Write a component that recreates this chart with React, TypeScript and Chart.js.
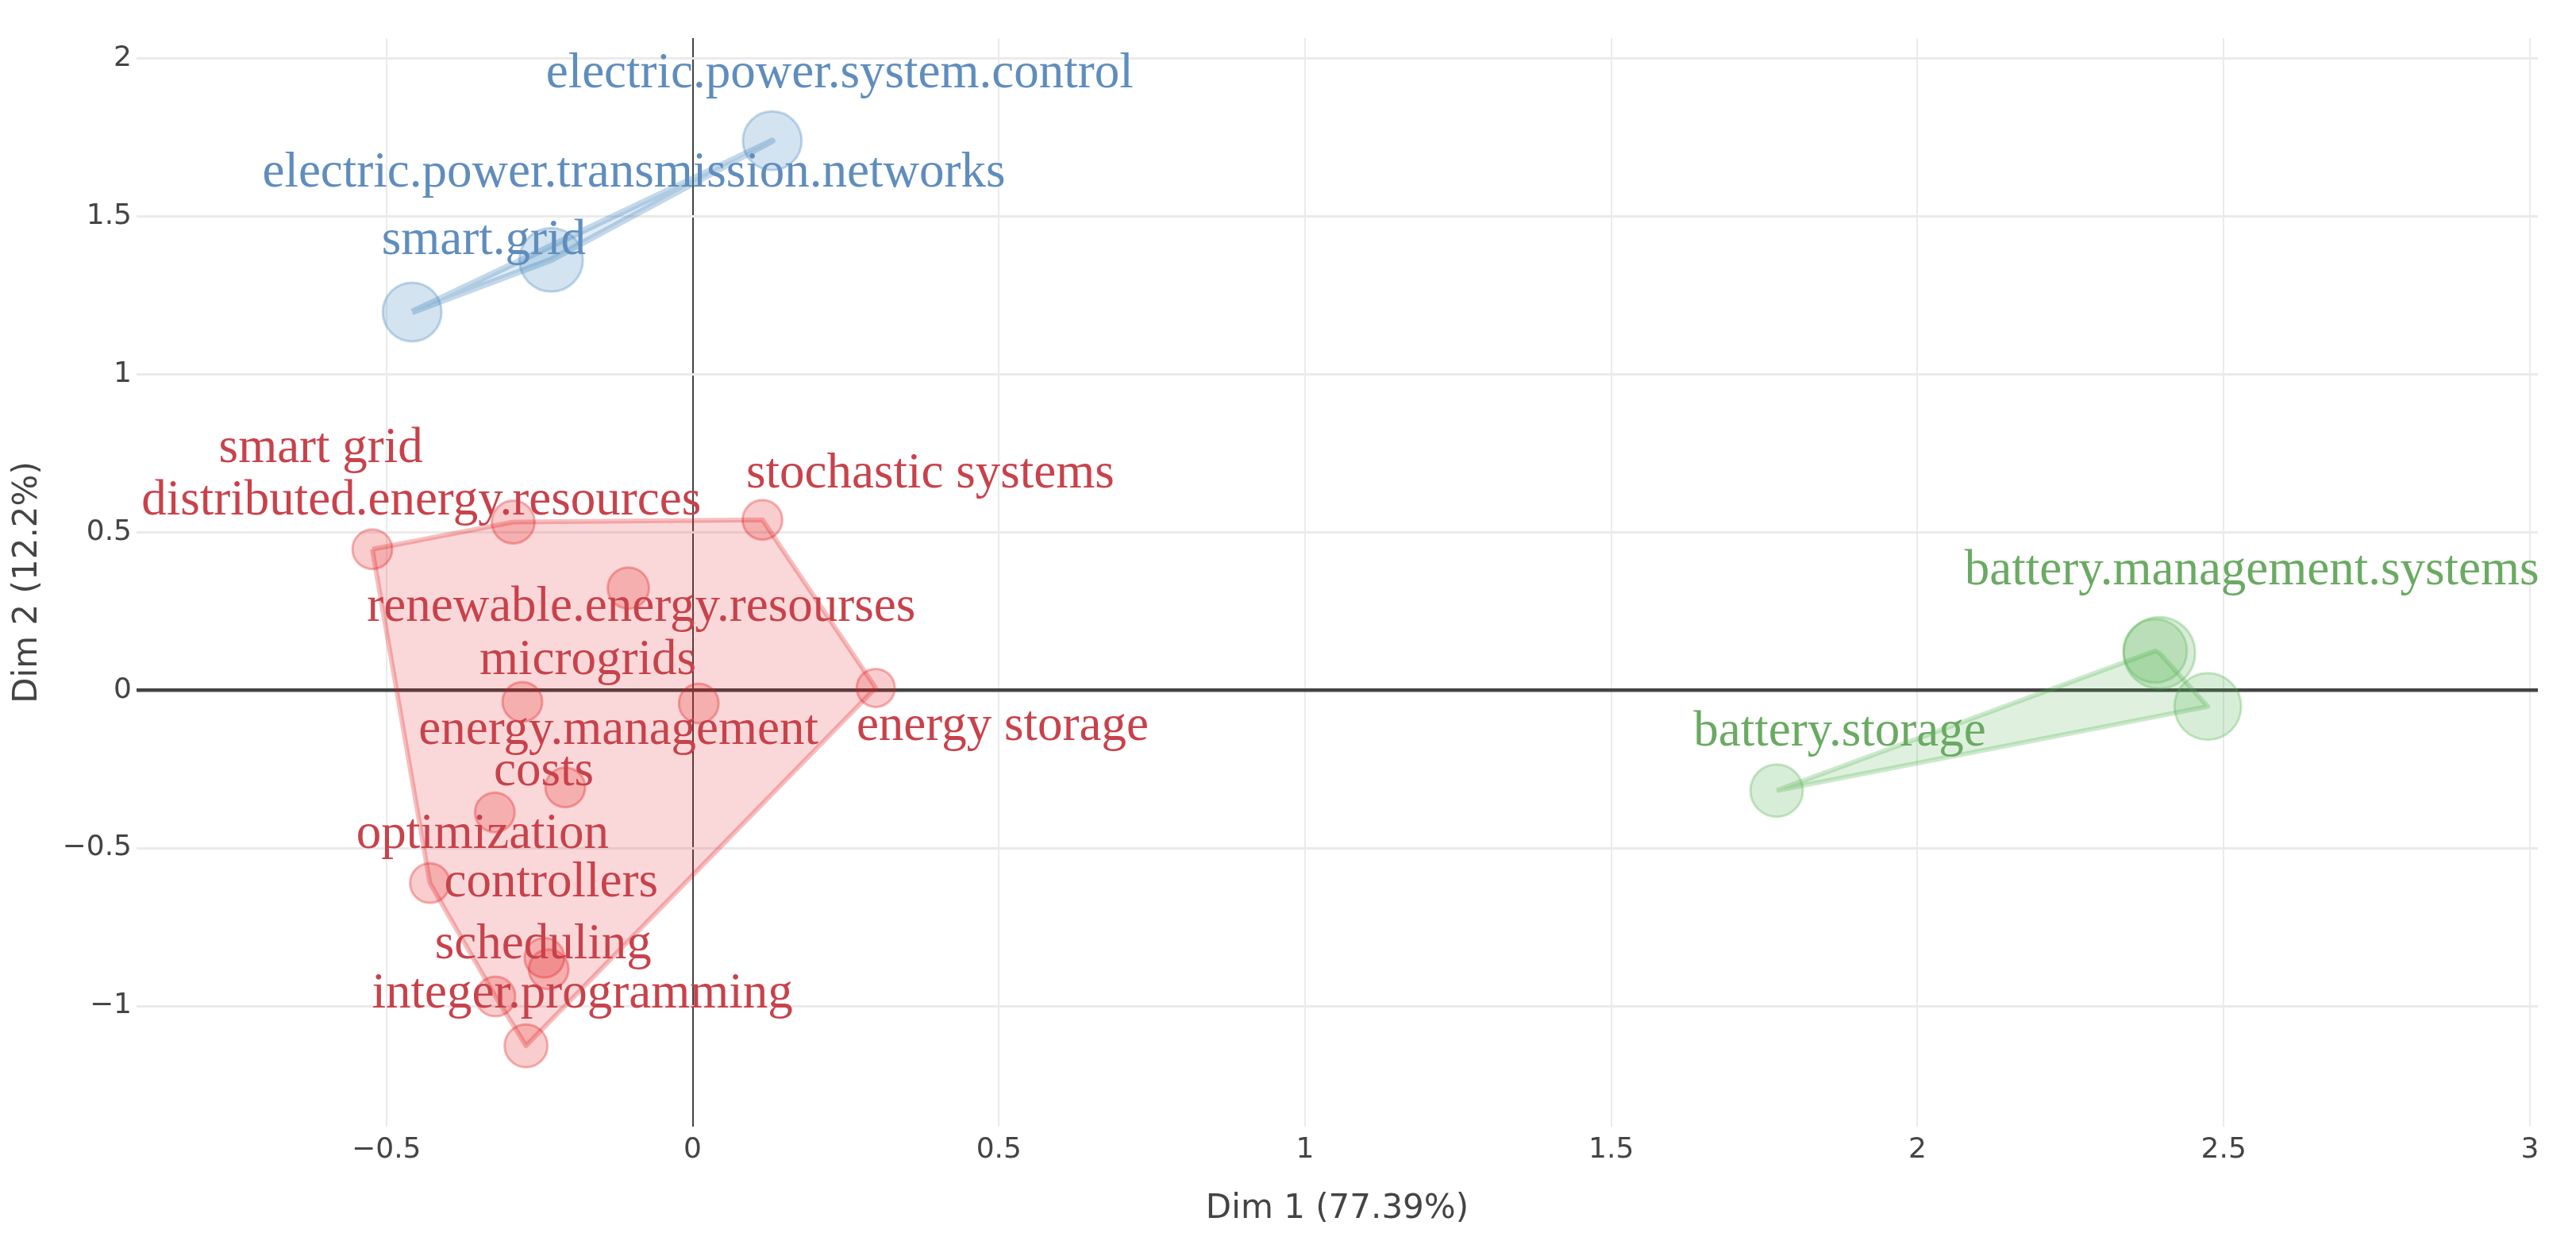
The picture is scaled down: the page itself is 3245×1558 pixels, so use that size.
import React, { useEffect, useRef } from 'react';
import { Chart, registerables } from 'chart.js';

Chart.register(...registerables);

const W = 3245;
const H = 1558;

// ---- data (Dim 1, Dim 2 coordinates) ----
const BLUE_X = [-0.458, -0.231, 0.13];
const BLUE_Y = [1.197, 1.362, 1.739];
const BLUE_SIZE = [37, 40, 37];
const BLUE_LABELS = ['electric.power.system.control', 'electric.power.transmission.networks', 'smart.grid'];
const BLUE_LABEL_X = [0.24, -0.096, -0.341];
const BLUE_LABEL_Y = [1.946, 1.633, 1.419];

const RED_X = [-0.523, -0.293, 0.114, -0.105, -0.278, 0.01, 0.299, -0.208, -0.323, -0.429, -0.242, -0.235, -0.322, -0.272];
const RED_Y = [0.446, 0.532, 0.539, 0.323, -0.037, -0.042, 0.007, -0.308, -0.387, -0.611, -0.847, -0.884, -0.97, -1.126];
const RED_SIZE = [25, 27, 25, 26, 25, 25, 24, 25, 25, 25, 25, 25, 25, 27];
const RED_LABELS = [
  'smart grid',
  'distributed.energy.resources',
  'stochastic systems',
  'renewable.energy.resourses',
  'microgrids',
  'energy.management',
  'energy storage',
  'costs',
  'optimization',
  'controllers',
  'scheduling',
  'integer.programming',
];
const RED_LABEL_X = [-0.607, -0.443, 0.388, -0.084, -0.171, -0.121, 0.506, -0.243, -0.343, -0.231, -0.244, -0.18];
const RED_LABEL_Y = [0.759, 0.594, 0.68, 0.256, 0.089, -0.133, -0.121, -0.264, -0.463, -0.616, -0.81, -0.966];

const GREEN_X = [2.395, 2.388, 2.474, 1.77];
const GREEN_Y = [0.118, 0.124, -0.052, -0.318];
const GREEN_SIZE = [45, 40, 42, 33];
const GREEN_LABELS = ['battery.management.systems', 'battery.storage'];
const GREEN_LABEL_X = [2.546, 1.873];
const GREEN_LABEL_Y = [0.372, -0.138];

const X_TICKS = [-0.5, 0, 0.5, 1, 1.5, 2, 2.5, 3];
const Y_TICKS = [-1, -0.5, 0, 0.5, 1, 1.5, 2];
const X_MIN = -0.908;
const X_MAX = 3.013;
const Y_MIN = -1.382;
const Y_MAX = 2.064;

const X_TITLE = 'Dim 1 (77.39%)';
const Y_TITLE = 'Dim 2 (12.2%)';

type P = { x: number; y: number };

function toPoints(xs: number[], ys: number[]): P[] {
  return xs.map((x, i) => ({ x, y: ys[i] }));
}

function hull(pts: P[]): P[] {
  const s = [...pts].sort((a, b) => (a.x === b.x ? a.y - b.y : a.x - b.x));
  const cross = (o: P, a: P, b: P) => (a.x - o.x) * (b.y - o.y) - (a.y - o.y) * (b.x - o.x);
  const lower: P[] = [];
  for (const p of s) {
    while (lower.length >= 2 && cross(lower[lower.length - 2], lower[lower.length - 1], p) <= 0) lower.pop();
    lower.push(p);
  }
  const upper: P[] = [];
  for (let i = s.length - 1; i >= 0; i--) {
    const p = s[i];
    while (upper.length >= 2 && cross(upper[upper.length - 2], upper[upper.length - 1], p) <= 0) upper.pop();
    upper.push(p);
  }
  upper.pop();
  lower.pop();
  const h = lower.concat(upper);
  return h.concat([h[0]]);
}

const fmt = (v: number) => (v < 0 ? '\u2212' + String(Math.abs(v)) : String(v));

const RED = '228,26,28';
const BLUE = '55,126,184';
const GREEN = '77,175,74';

const GROUPS = [
  { rgb: BLUE, text: '#5f8dbd', xs: BLUE_X, ys: BLUE_Y, size: BLUE_SIZE, labels: BLUE_LABELS, lx: BLUE_LABEL_X, ly: BLUE_LABEL_Y, hullFill: 0.15, hullLine: 0.3, hullW: 8, ptFill: 0.22, ptLine: 0.3 },
  { rgb: RED, text: '#c8424b', xs: RED_X, ys: RED_Y, size: RED_SIZE, labels: RED_LABELS, lx: RED_LABEL_X, ly: RED_LABEL_Y, hullFill: 0.17, hullLine: 0.28, hullW: 6, ptFill: 0.22, ptLine: 0.32 },
  { rgb: GREEN, text: '#6aaa62', xs: GREEN_X, ys: GREEN_Y, size: GREEN_SIZE, labels: GREEN_LABELS, lx: GREEN_LABEL_X, ly: GREEN_LABEL_Y, hullFill: 0.18, hullLine: 0.28, hullW: 6, ptFill: 0.22, ptLine: 0.3 },
];

const labelPlugin = {
  id: 'pointLabels',
  afterDatasetsDraw(chart: any) {
    const { ctx, scales } = chart;
    const size = 63;
    ctx.save();
    ctx.font = `${size}px "Liberation Serif", "Times New Roman", serif`;
    ctx.textAlign = 'center';
    ctx.textBaseline = 'alphabetic';
    for (const g of GROUPS) {
      ctx.fillStyle = g.text;
      g.labels.forEach((t, i) => {
        const px = scales.x.getPixelForValue(g.lx[i]);
        const py = scales.y.getPixelForValue(g.ly[i]);
        ctx.fillText(t, px, py + size * 0.24);
      });
    }
    ctx.restore();
  },
};

export default function App() {
  const ref = useRef<HTMLCanvasElement | null>(null);

  useEffect(() => {
    document.body.style.margin = '0';
    const canvas = ref.current;
    if (!canvas) return;

    const datasets: any[] = [];
    GROUPS.forEach((g) => {
      datasets.push({
        label: 'hull',
        data: hull(toPoints(g.xs, g.ys)),
        showLine: true,
        fill: 'shape',
        backgroundColor: `rgba(${g.rgb},${g.hullFill})`,
        borderColor: `rgba(${g.rgb},${g.hullLine})`,
        borderWidth: g.hullW,
        borderJoinStyle: 'round',
        pointRadius: 0,
        tension: 0,
        order: 2,
      });
    });
    GROUPS.forEach((g) => {
      datasets.push({
        label: 'points',
        data: toPoints(g.xs, g.ys),
        showLine: false,
        pointRadius: g.size,
        pointHoverRadius: g.size,
        backgroundColor: `rgba(${g.rgb},${g.ptFill})`,
        borderColor: `rgba(${g.rgb},${g.ptLine})`,
        pointBorderWidth: 3,
        order: 1,
      });
    });

    const tickFont = { family: '"DejaVu Sans", Verdana, sans-serif', size: 36 };
    const titleFont = { family: '"DejaVu Sans", Verdana, sans-serif', size: 42 };

    const chart = new Chart(canvas, {
      type: 'scatter',
      data: { datasets },
      plugins: [labelPlugin],
      options: {
        animation: false,
        responsive: false,
        maintainAspectRatio: false,
        devicePixelRatio: 1,
        layout: { padding: { top: 20, right: 15, left: 0, bottom: 0 } },
        plugins: { legend: { display: false }, tooltip: { enabled: false } },
        scales: {
          x: {
            type: 'linear',
            min: X_MIN,
            max: X_MAX,
            afterBuildTicks: (s: any) => {
              s.ticks = X_TICKS.map((v) => ({ value: v }));
            },
            afterFit: (s: any) => {
              s.height = 139;
            },
            border: { display: false },
            grid: {
              drawTicks: false,
              color: (c: any) => (c.tick && c.tick.value === 0 ? '#444444' : '#ebebeb'),
              lineWidth: 2,
            },
            ticks: {
              padding: 8,
              color: '#444444',
              font: tickFont,
              maxRotation: 0,
              callback: (v: any) => fmt(Number(v)),
            },
            title: {
              display: true,
              text: X_TITLE,
              color: '#444444',
              font: titleFont,
              padding: { top: 0, bottom: 10 },
            },
          },
          y: {
            type: 'linear',
            min: Y_MIN,
            max: Y_MAX,
            afterBuildTicks: (s: any) => {
              s.ticks = Y_TICKS.map((v) => ({ value: v }));
            },
            afterFit: (s: any) => {
              s.width = 172;
            },
            border: { display: false },
            grid: {
              drawTicks: false,
              color: (c: any) => (c.tick && c.tick.value === 0 ? '#444444' : '#ebebeb'),
              lineWidth: (c: any) => (c.tick && c.tick.value === 0 ? 4.5 : 3),
            },
            ticks: {
              padding: 6,
              color: '#444444',
              font: tickFont,
              callback: (v: any) => fmt(Number(v)),
            },
            title: {
              display: true,
              text: Y_TITLE,
              color: '#444444',
              font: titleFont,
              padding: { top: 10, bottom: 0 },
            },
          },
        },
      },
    } as any);

    return () => chart.destroy();
  }, []);

  return (
    <div style={{ width: W, height: H, background: '#ffffff' }}>
      <canvas ref={ref} width={W} height={H} style={{ width: W, height: H, display: 'block' }} />
    </div>
  );
}
